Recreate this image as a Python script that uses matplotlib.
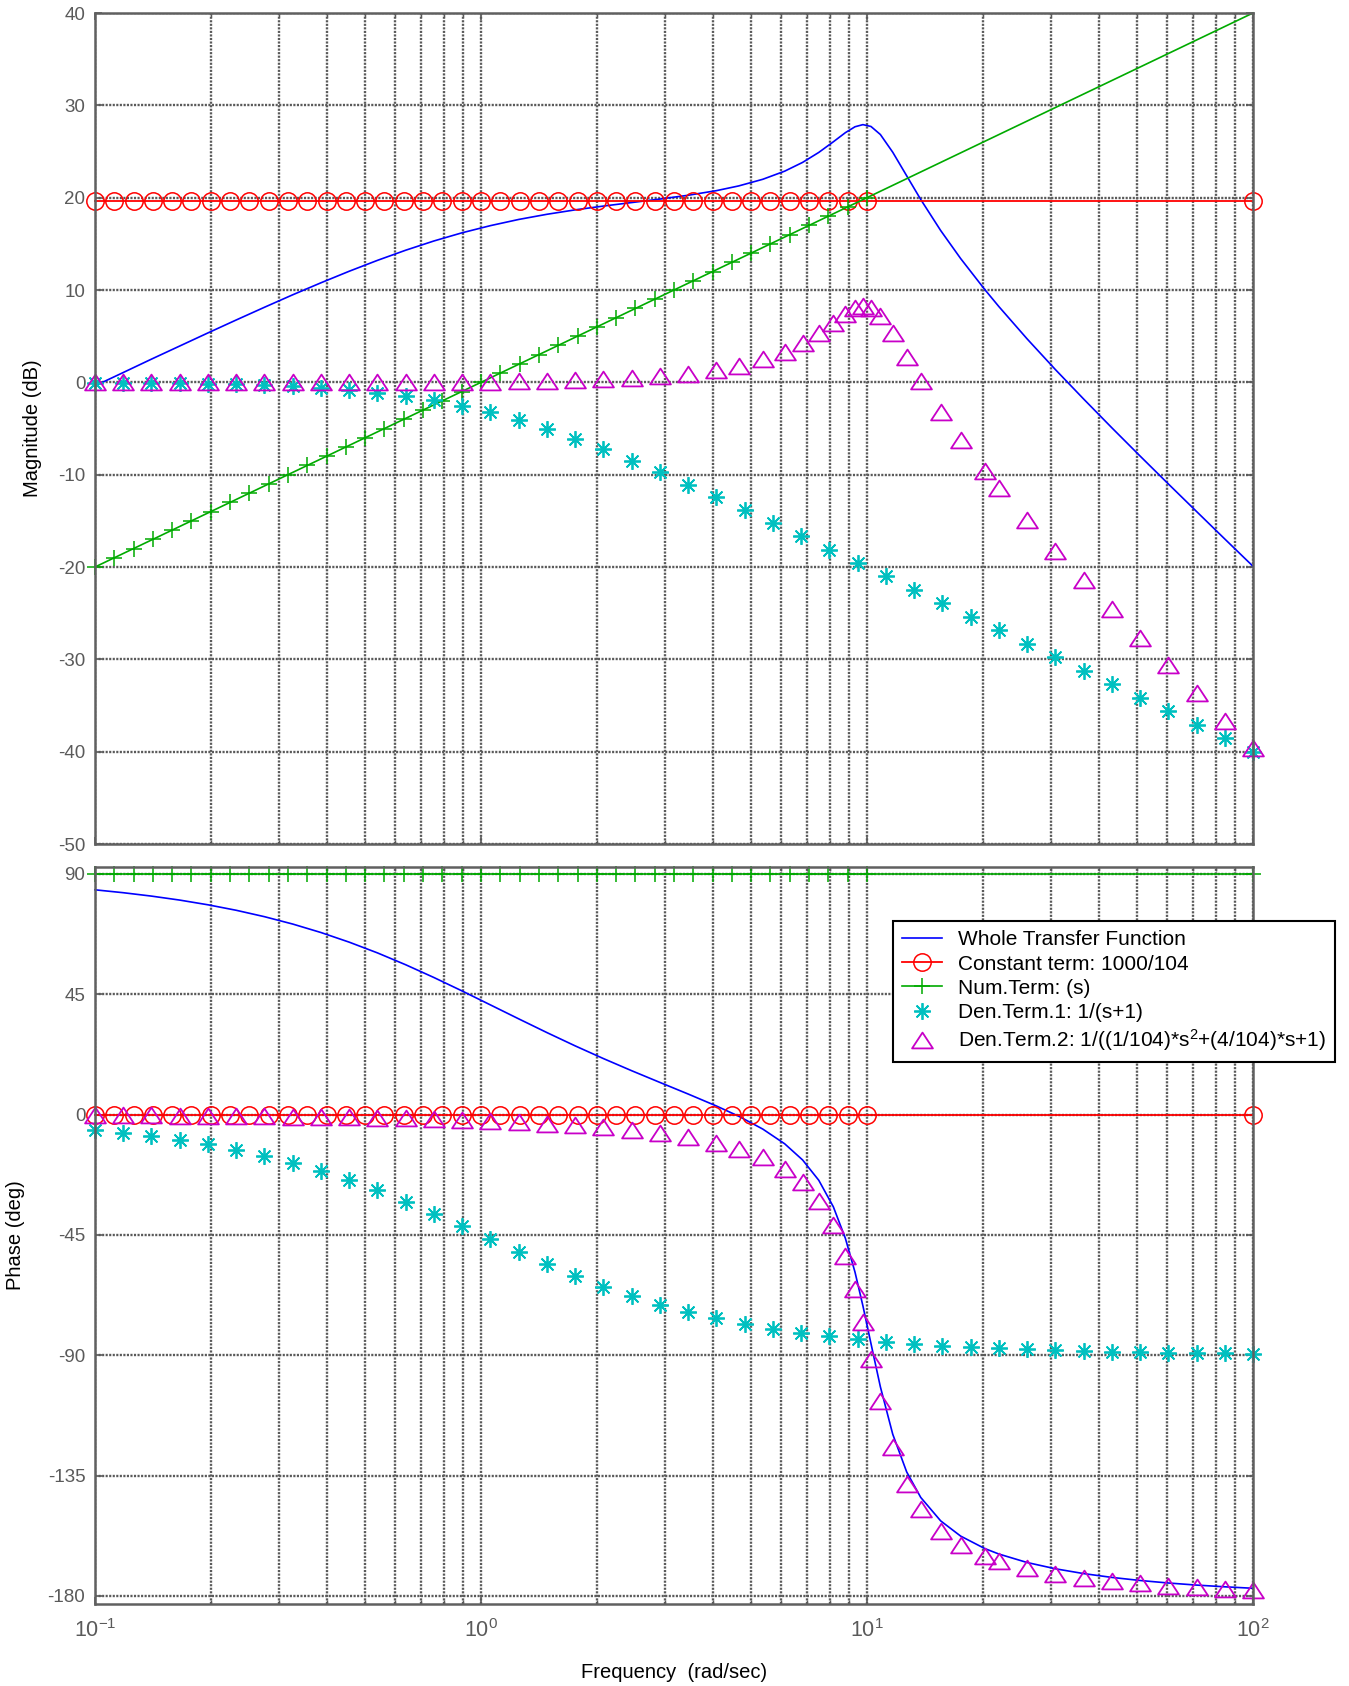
import matplotlib
matplotlib.use("Agg")
import matplotlib.pyplot as plt
from matplotlib.path import Path
from matplotlib.ticker import FixedLocator, FixedFormatter, NullFormatter, LogLocator

plt.rcParams['font.family'] = ['Liberation Sans', 'DejaVu Sans']
plt.rcParams['mathtext.default'] = 'regular'
plt.rcParams['axes.unicode_minus'] = False

# -------------------------
# DATA
# -------------------------
# frequency grid of the constant and numerator terms (rad/sec)
CONST_W = [0.1000, 0.1122, 0.1259, 0.1413, 0.1585, 0.1778, 0.1995, 0.2239, 0.2512, 0.2818,
           0.3162, 0.3548, 0.3981, 0.4467, 0.5012, 0.5623, 0.6310, 0.7079, 0.7943, 0.8913,
           1.0000, 1.1220, 1.2589, 1.4125, 1.5849, 1.7783, 1.9953, 2.2387, 2.5119, 2.8184,
           3.1623, 3.5481, 3.9811, 4.4668, 5.0119, 5.6234, 6.3096, 7.0795, 7.9433, 8.9125,
           10.000, 100.0]
CONST_MAG = [19.66] * 42
CONST_PHASE = [0.0] * 42
NUM_MAG = [-20, -19, -18, -17, -16, -15, -14, -13, -12, -11, -10, -9, -8, -7, -6, -5, -4, -3,
           -2, -1, 0, 1, 2, 3, 4, 5, 6, 7, 8, 9, 10, 11, 12, 13, 14, 15, 16, 17, 18, 19, 20, 40]
NUM_PHASE = [90.0] * 42

# first-order denominator term
DEN1_W = [0.1000, 0.1183, 0.1400, 0.1657, 0.1961, 0.2321, 0.2748, 0.3252, 0.3849, 0.4555,
          0.5392, 0.6382, 0.7552, 0.8938, 1.0578, 1.2520, 1.4818, 1.7538, 2.0757, 2.4567,
          2.9076, 3.4413, 4.0730, 4.8205, 5.7052, 6.7523, 7.9916, 9.4585, 11.195, 13.249,
          15.681, 18.560, 21.966, 25.997, 30.769, 36.416, 43.100, 51.011, 60.373, 71.455,
          84.571, 100.0]
DEN1_MAG = [-0.04, -0.06, -0.08, -0.12, -0.16, -0.23, -0.32, -0.44, -0.60, -0.82,
            -1.11, -1.48, -1.96, -2.55, -3.26, -4.10, -5.05, -6.10, -7.25, -8.47,
            -9.76, -11.09, -12.45, -13.85, -15.26, -16.68, -18.12, -19.57, -21.02, -22.47,
            -23.93, -25.38, -26.84, -28.31, -29.77, -31.23, -32.69, -34.16, -35.62, -37.08,
            -38.55, -40.00]
DEN1_PHASE = [-5.71, -6.75, -7.97, -9.41, -11.10, -13.07, -15.37, -18.01, -21.05, -24.49,
              -28.33, -32.55, -37.06, -41.79, -46.61, -51.38, -55.99, -60.31, -64.28, -67.85,
              -71.02, -73.80, -76.21, -78.28, -80.06, -81.58, -82.87, -83.96, -84.90, -85.68,
              -86.35, -86.92, -87.39, -87.80, -88.14, -88.43, -88.67, -88.88, -89.05, -89.20,
              -89.32, -89.43]

# second-order denominator term and whole transfer function share this grid
DEN2_W = [0.1000, 0.1183, 0.1400, 0.1657, 0.1961, 0.2321, 0.2748, 0.3252, 0.3849, 0.4555,
          0.5392, 0.6382, 0.7552, 0.8938, 1.0578, 1.2520, 1.4818, 1.7538, 2.0757, 2.4567,
          2.9076, 3.4413, 4.0730, 4.65, 5.37, 6.12, 6.81, 7.50, 8.18, 8.79,
          9.31, 9.76, 10.24, 10.83, 11.66, 12.67, 13.78, 15.52, 17.48, 20.18,
          21.966, 25.997, 30.769, 36.416, 43.100, 51.011, 60.373, 71.455, 84.571, 100.0]
DEN2_MAG = [0.00, 0.00, 0.00, 0.00, 0.00, 0.00, 0.01, 0.01, 0.01, 0.02,
            0.02, 0.03, 0.04, 0.06, 0.09, 0.12, 0.17, 0.24, 0.34, 0.48,
            0.67, 0.95, 1.36, 1.81, 2.48, 3.33, 4.25, 5.32, 6.46, 7.44,
            8.07, 8.30, 8.09, 7.22, 5.29, 2.73, 0.16, -3.20, -6.24, -9.59,
            -11.45, -14.95, -18.27, -21.46, -24.58, -27.64, -30.66, -33.66, -36.63, -39.58]
DEN2_PHASE = [-0.22, -0.26, -0.31, -0.37, -0.43, -0.51, -0.61, -0.72, -0.85, -1.01,
              -1.19, -1.41, -1.67, -1.98, -2.36, -2.80, -3.33, -3.98, -4.76, -5.73,
              -6.94, -8.50, -10.56, -12.72, -15.95, -20.19, -25.30, -32.14, -41.42, -52.75,
              -65.05, -77.38, -91.20, -107.05, -124.42, -138.12, -147.31, -155.61, -160.87, -165.09,
              -166.93, -169.69, -171.69, -173.20, -174.39, -175.33, -176.10, -176.73, -177.25, -177.69]
WHOLE_MAG = [-0.38, 1.06, 2.51, 3.93, 5.35, 6.75, 8.13, 9.48, 10.78, 12.03,
             13.21, 14.31, 15.31, 16.20, 16.97, 17.64, 18.20, 18.68, 19.09, 19.47,
             19.85, 20.26, 20.76, 21.27, 21.99, 22.87, 23.82, 24.90, 26.05, 27.04,
             27.68, 27.91, 27.71, 26.84, 24.92, 22.37, 19.80, 16.44, 13.41, 10.06,
             8.20, 4.70, 1.38, -1.81, -4.93, -7.99, -11.01, -14.00, -16.98, -19.92]
WHOLE_PHASE = [84.07, 82.99, 81.72, 80.23, 78.47, 76.42, 74.02, 71.27, 68.10, 64.50,
               60.48, 56.04, 51.27, 46.23, 41.03, 35.82, 30.68, 25.71, 20.96, 16.42,
               12.04, 7.70, 3.23, -0.58, -5.40, -10.91, -16.95, -24.55, -34.45, -46.26,
               -58.92, -71.53, -85.62, -101.77, -119.52, -133.61, -143.16, -151.92, -157.60, -162.25,
               -164.32, -167.49, -169.83, -171.63, -173.06, -174.21, -175.15, -175.93, -176.57, -177.12]

LABELS = ["Whole Transfer Function",
          "Constant term: 1000/104",
          "Num.Term: (s)",
          "Den.Term.1: 1/(s+1)",
          "Den.Term.2: 1/((1/104)*s$^2$+(4/104)*s+1)"]

X_TICKS = [0.1, 1, 10, 100]
X_TICK_LABELS = ["$10^{-1}$", "$10^{0}$", "$10^{1}$", "$10^{2}$"]
MAG_TICKS = [-50, -40, -30, -20, -10, 0, 10, 20, 30, 40]
PHASE_TICKS = [-180, -135, -90, -45, 0, 45, 90]

# -------------------------
# STYLE
# -------------------------
GRAY = "#5a5a5a"
BLUE = "#0000ff"
RED = "#ff0000"
GREEN = "#00aa00"
CYAN = "#00c0c0"
MAGENTA = "#c800c8"
TRI = Path([(-1, -0.76), (1, -0.76), (0, 0.76), (-1, -0.76)],
           [Path.MOVETO, Path.LINETO, Path.LINETO, Path.CLOSEPOLY])
STAR = (8, 2, 0)
GRID_LS = (0, (0.9, 0.6))

W, H = 1349, 1686
fig = plt.figure(figsize=(W / 100, H / 100), dpi=100)
ax1 = fig.add_axes([95 / W, 1 - 844 / H, 1158 / W, 831 / H])
ax2 = fig.add_axes([95 / W, 1 - 1604 / H, 1158 / W, 737 / H])


def style_axes(ax):
    ax.set_xscale("log")
    ax.set_xlim(0.1, 100)
    ax.xaxis.set_major_locator(FixedLocator(X_TICKS))
    ax.xaxis.set_minor_locator(LogLocator(base=10, subs=range(2, 10)))
    ax.xaxis.set_minor_formatter(NullFormatter())
    ax.grid(True, which="major", axis="both", color=GRAY, linestyle=GRID_LS, linewidth=1.7)
    ax.grid(True, which="minor", axis="x", color=GRAY, linestyle=GRID_LS, linewidth=1.7)
    ax.tick_params(which="both", direction="in", top=True, right=True, color=GRAY,
                   labelcolor="#5a5a5a", labelsize=13.5, pad=7)
    ax.tick_params(which="major", length=5, width=1.2)
    ax.tick_params(which="minor", length=3, width=1.0)
    for sp in ax.spines.values():
        sp.set_color("#606060")
        sp.set_linewidth(1.8)


def draw(ax, mags, num_marks):
    handles = []
    h, = ax.plot(DEN2_W, mags[0], color=BLUE, lw=1.2, clip_on=False)
    handles.append(h)
    h, = ax.plot(CONST_W, mags[1], color=RED, lw=1.3, marker="o", ms=12.5,
                 mfc="none", mec=RED, mew=1.1, clip_on=False)
    handles.append(h)
    h, = ax.plot(CONST_W, mags[2], color=GREEN, lw=1.2, marker="+", ms=11,
                 mec=GREEN, mew=1.1, markevery=num_marks, clip_on=False)
    handles.append(h)
    h, = ax.plot(DEN1_W, mags[3], linestyle="none", marker=STAR, ms=12,
                 mec=CYAN, mew=1.3, clip_on=False)
    handles.append(h)
    h, = ax.plot(DEN2_W, mags[4], linestyle="none", marker=TRI, ms=15,
                 mfc="none", mec=MAGENTA, mew=1.3, clip_on=False)
    handles.append(h)
    return handles


style_axes(ax1)
draw(ax1, [WHOLE_MAG, CONST_MAG, NUM_MAG, DEN1_MAG, DEN2_MAG], slice(0, 41))
ax1.set_ylim(-50, 40)
ax1.set_yticks(MAG_TICKS)
ax1.set_xticklabels([])

style_axes(ax2)
handles = draw(ax2, [WHOLE_PHASE, CONST_PHASE, NUM_PHASE, DEN1_PHASE, DEN2_PHASE], None)
ax2.set_ylim(-183, 92.6)
ax2.set_yticks(PHASE_TICKS)
ax2.xaxis.set_major_formatter(FixedFormatter(X_TICK_LABELS))
ax2.tick_params(axis="x", which="major", pad=11, labelsize=15.5)

fig.text(32 / W, 1 - 428 / H, "Magnitude (dB)", rotation=90, ha="center", va="center", fontsize=14.5)
fig.text(16 / W, 1 - 1235 / H, "Phase (deg)", rotation=90, ha="center", va="center", fontsize=14.5)
fig.text(674 / W, 1 - 1672 / H, "Frequency  (rad/sec)", ha="center", va="center", fontsize=14.5)

leg = fig.legend(handles, LABELS, loc="upper left", bbox_to_anchor=(893 / W, 1 - 921 / H),
                 bbox_transform=fig.transFigure, borderaxespad=0, fontsize=15,
                 fancybox=False, framealpha=1, edgecolor="black", handlelength=1.9,
                 handletextpad=0.75, labelspacing=0.25, borderpad=0.45)
leg.get_frame().set_linewidth(1.5)

fig.savefig("out.png", dpi=100)
